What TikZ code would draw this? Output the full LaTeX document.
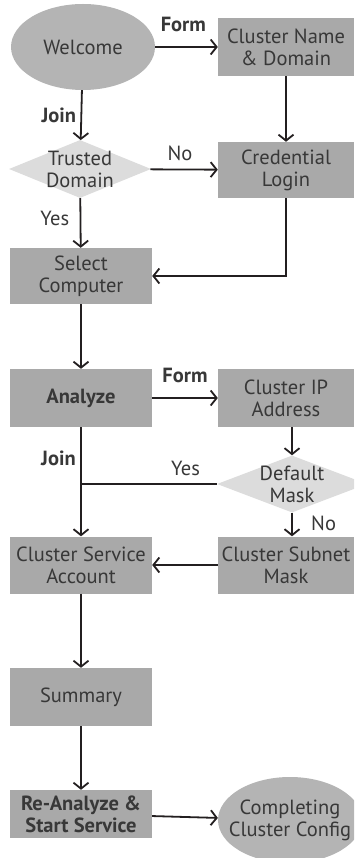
\documentclass[tikz,border=0pt]{standalone}
\usepackage{fontspec}
\setmainfont{PT Sans}
\usepackage{tikz}
\usetikzlibrary{arrows.meta,positioning,shapes.geometric}
\definecolor{BoxGray}{HTML}{A9A9A9}
\definecolor{CapGray}{HTML}{B4B4B4}
\definecolor{DiaGray}{HTML}{DCDCDC}
\definecolor{InkGray}{HTML}{383838}
\definecolor{LineDark}{HTML}{231F20}
\newcommand{\flowfont}{\fontsize{20.5}{22}\selectfont}

\begin{document}
\begin{tikzpicture}[
  x=1pt,y=-1pt,
  font=\flowfont,
  every node/.style={text=InkGray},
  stepbox/.style={fill=BoxGray,minimum width=142pt,minimum height=57pt,align=center,inner sep=0pt},
  sidebox/.style={stepbox,minimum width=136pt},
  endcap/.style={ellipse,fill=CapGray,minimum width=144pt,minimum height=86pt,inner sep=0pt},
  decide/.style={diamond,fill=DiaGray,minimum width=142pt,minimum height=58pt,inner sep=0pt},
  strong/.style={font=\flowfont\bfseries},
  flow/.style={draw=LineDark,line width=1.8pt,-{Straight Barb[length=6pt,width=15pt]}},
  link/.style={draw=LineDark,line width=1.8pt}
]
\useasboundingbox (0,0) rectangle (354,858);
\clip (0,0) rectangle (354,858);

% forming or joining the cluster
\node[endcap] (welcome) at (83,47) {Welcome};
\node[sidebox,minimum height=58pt] (name) at (286,47) {Cluster Name\\\& Domain};
\node[decide,label={[align=center]center:Trusted\\Domain}] (trusted) at (80,169) {};
\node[sidebox,minimum height=56pt] (cred) at (286,170) {Credential\\Login};
\node[stepbox,minimum height=56pt] (select) at (81,276) {Select\\Computer};

% analysis and network settings
\node[stepbox,strong,minimum height=58pt] (analyze) at (81,398) {Analyze};
\node[sidebox,minimum height=58pt] (ip) at (286,398) {Cluster IP\\Address};
\node[decide,minimum width=150pt,minimum height=57pt,label={[align=center]center:Default\\Mask}] (mask) at (292,484) {};
\node[stepbox] (service) at (81,565) {Cluster Service\\Account};
\node[sidebox] (subnet) at (286,565) {Cluster Subnet\\Mask};

% finishing
\node[stepbox,minimum height=58pt] (summary) at (81,697) {Summary};
\node[stepbox,strong,minimum height=48pt] (restart) at (81,814) {Re-Analyze \&\\Start Service};
\node[endcap,label={[align=center]center:Completing\\Cluster Config}] (complete) at (290,820) {};

\draw[flow] (welcome) -- node[strong,above=11pt,pos=0.45] {Form} (name);
\draw[flow] (name) -- (cred);
\draw[flow] (welcome) -- node[strong,left=1pt] {Join} (trusted);
\draw[flow] (trusted) -- node[above=5pt,pos=0.44] {No} (cred);
\draw[flow] (trusted) -- node[left=7pt,pos=0.4] {Yes} (select);
\draw[flow] (cred) |- (select);
\draw[flow] (select) -- (analyze);
\draw[flow] (analyze) -- node[strong,above=11pt,pos=0.5] {Form} (ip);
\draw[flow] (mask.north |- ip.south) -- (mask.north);
\draw[link] (mask.west) -- node[above=4pt,pos=0.23] {Yes} (mask.west -| analyze.south);
\draw[flow] (analyze) -- node[strong,left=1pt,pos=0.29] {Join} (service);
\draw[flow] (mask.south) -- node[right=15pt,pos=0.43] {No} (mask.south |- subnet.north);
\draw[flow] (subnet) -- (service);
\draw[flow] (service) -- (summary);
\draw[flow] (summary) -- (restart);
\draw[flow] (restart) -- (complete);
\end{tikzpicture}
\end{document}
